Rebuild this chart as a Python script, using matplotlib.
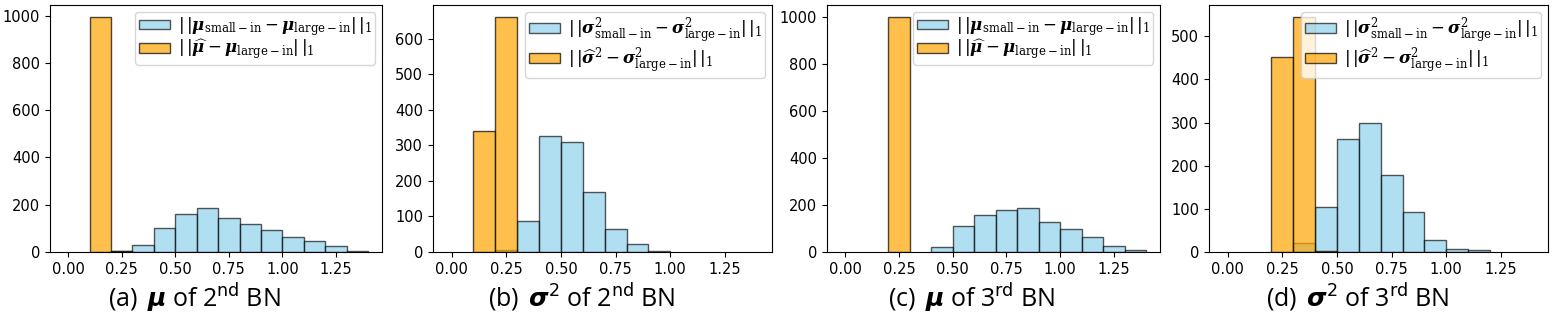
import numpy as np
import matplotlib.pyplot as plt
from matplotlib.font_manager import FontProperties

plt.rcParams['mathtext.fontset'] = 'stix'

# bin edges shared by every panel
bins = np.round(np.arange(0, 1.41, 0.1), 2)

# counts per bin (0.0-0.1, 0.1-0.2, ... 1.3-1.4)
blue_a = [0, 0, 3, 28, 101, 159, 186, 145, 118, 95, 64, 45, 27, 5]
orange_a = [0, 995, 5, 0, 0, 0, 0, 0, 0, 0, 0, 0, 0, 0]

blue_b = [0, 0, 5, 88, 326, 310, 168, 66, 22, 4, 0, 0, 0, 0]
orange_b = [0, 340, 662, 0, 0, 0, 0, 0, 0, 0, 0, 0, 0, 0]

blue_c = [0, 0, 0, 0, 23, 109, 156, 179, 187, 129, 96, 64, 27, 10]
orange_c = [0, 0, 1000, 0, 0, 0, 0, 0, 0, 0, 0, 0, 0, 0]

blue_d = [0, 0, 0, 21, 104, 261, 300, 179, 93, 28, 8, 5, 0, 0]
orange_d = [0, 0, 451, 545, 3, 0, 0, 0, 0, 0, 0, 0, 0, 0]

mu_labels = [r'$|\,|\boldsymbol{\mu}_{\mathrm{small-in}} - \boldsymbol{\mu}_{\mathrm{large-in}}|\,|_1$',
             r'$|\,|\widehat{\boldsymbol{\mu}} - \boldsymbol{\mu}_{\mathrm{large-in}}|\,|_1$']
sig_labels = [r'$|\,|\boldsymbol{\sigma}^2_{\mathrm{small-in}} - \boldsymbol{\sigma}^2_{\mathrm{large-in}}|\,|_1$',
              r'$|\,|\widehat{\boldsymbol{\sigma}}^2 - \boldsymbol{\sigma}^2_{\mathrm{large-in}}|\,|_1$']

captions = [r'(a) $\,\boldsymbol{\mu}$ of 2$^{\mathrm{nd}}$ BN',
            r'(b) $\,\boldsymbol{\sigma}^2$ of 2$^{\mathrm{nd}}$ BN',
            r'(c) $\,\boldsymbol{\mu}$ of 3$^{\mathrm{rd}}$ BN',
            r'(d) $\,\boldsymbol{\sigma}^2$ of 3$^{\mathrm{rd}}$ BN']

panels = [(blue_a, orange_a, mu_labels, [0, 200, 400, 600, 800, 1000]),
          (blue_b, orange_b, sig_labels, [0, 100, 200, 300, 400, 500, 600]),
          (blue_c, orange_c, mu_labels, [0, 200, 400, 600, 800, 1000]),
          (blue_d, orange_d, sig_labels, [0, 100, 200, 300, 400, 500])]

W, H = 1556, 324
fig = plt.figure(figsize=(W / 100, H / 100), dpi=100)

# axes boxes in pixels: left, right
boxes = [(50, 382), (433, 772), (827, 1160), (1209, 1548)]
cap_x = [194, 582, 971, 1358]
top, bottom = 5, 252

leg_font = FontProperties(family='DejaVu Serif', size=12, math_fontfamily='dejavuserif')


def draw_hist(ax, counts, **kw):
    # only the non-empty bins get a bar
    counts = np.array(counts)
    m = counts > 0
    ax.bar(bins[:-1][m], counts[m], width=0.1, align='edge', **kw)


for i, (blue, orange, labels, yt) in enumerate(panels):
    l, r = boxes[i]
    ax = fig.add_axes([l / W, 1 - bottom / H, (r - l) / W, (bottom - top) / H])
    draw_hist(ax, blue, color='skyblue', alpha=0.65, edgecolor='black',
              linewidth=1, label=labels[0])
    draw_hist(ax, orange, color='orange', alpha=0.7, edgecolor='black',
              linewidth=1, label=labels[1])
    ax.set_xlim(-0.085, 1.465)
    ax.set_xticks([0, 0.25, 0.5, 0.75, 1.0, 1.25])
    ax.set_yticks(yt)
    ax.tick_params(labelsize=10.5)
    ax.legend(loc='upper right', prop=leg_font, handlelength=1.9, handleheight=0.5,
              borderaxespad=0.4, labelspacing=0.0, borderpad=0.2,
              handletextpad=0.45)
    fig.text(cap_x[i] / W, 1 - 298 / H, captions[i], ha='center', va='center',
             fontsize=18, family='Open Sans', math_fontfamily='dejavusans')

fig.savefig('out.png', dpi=100)
